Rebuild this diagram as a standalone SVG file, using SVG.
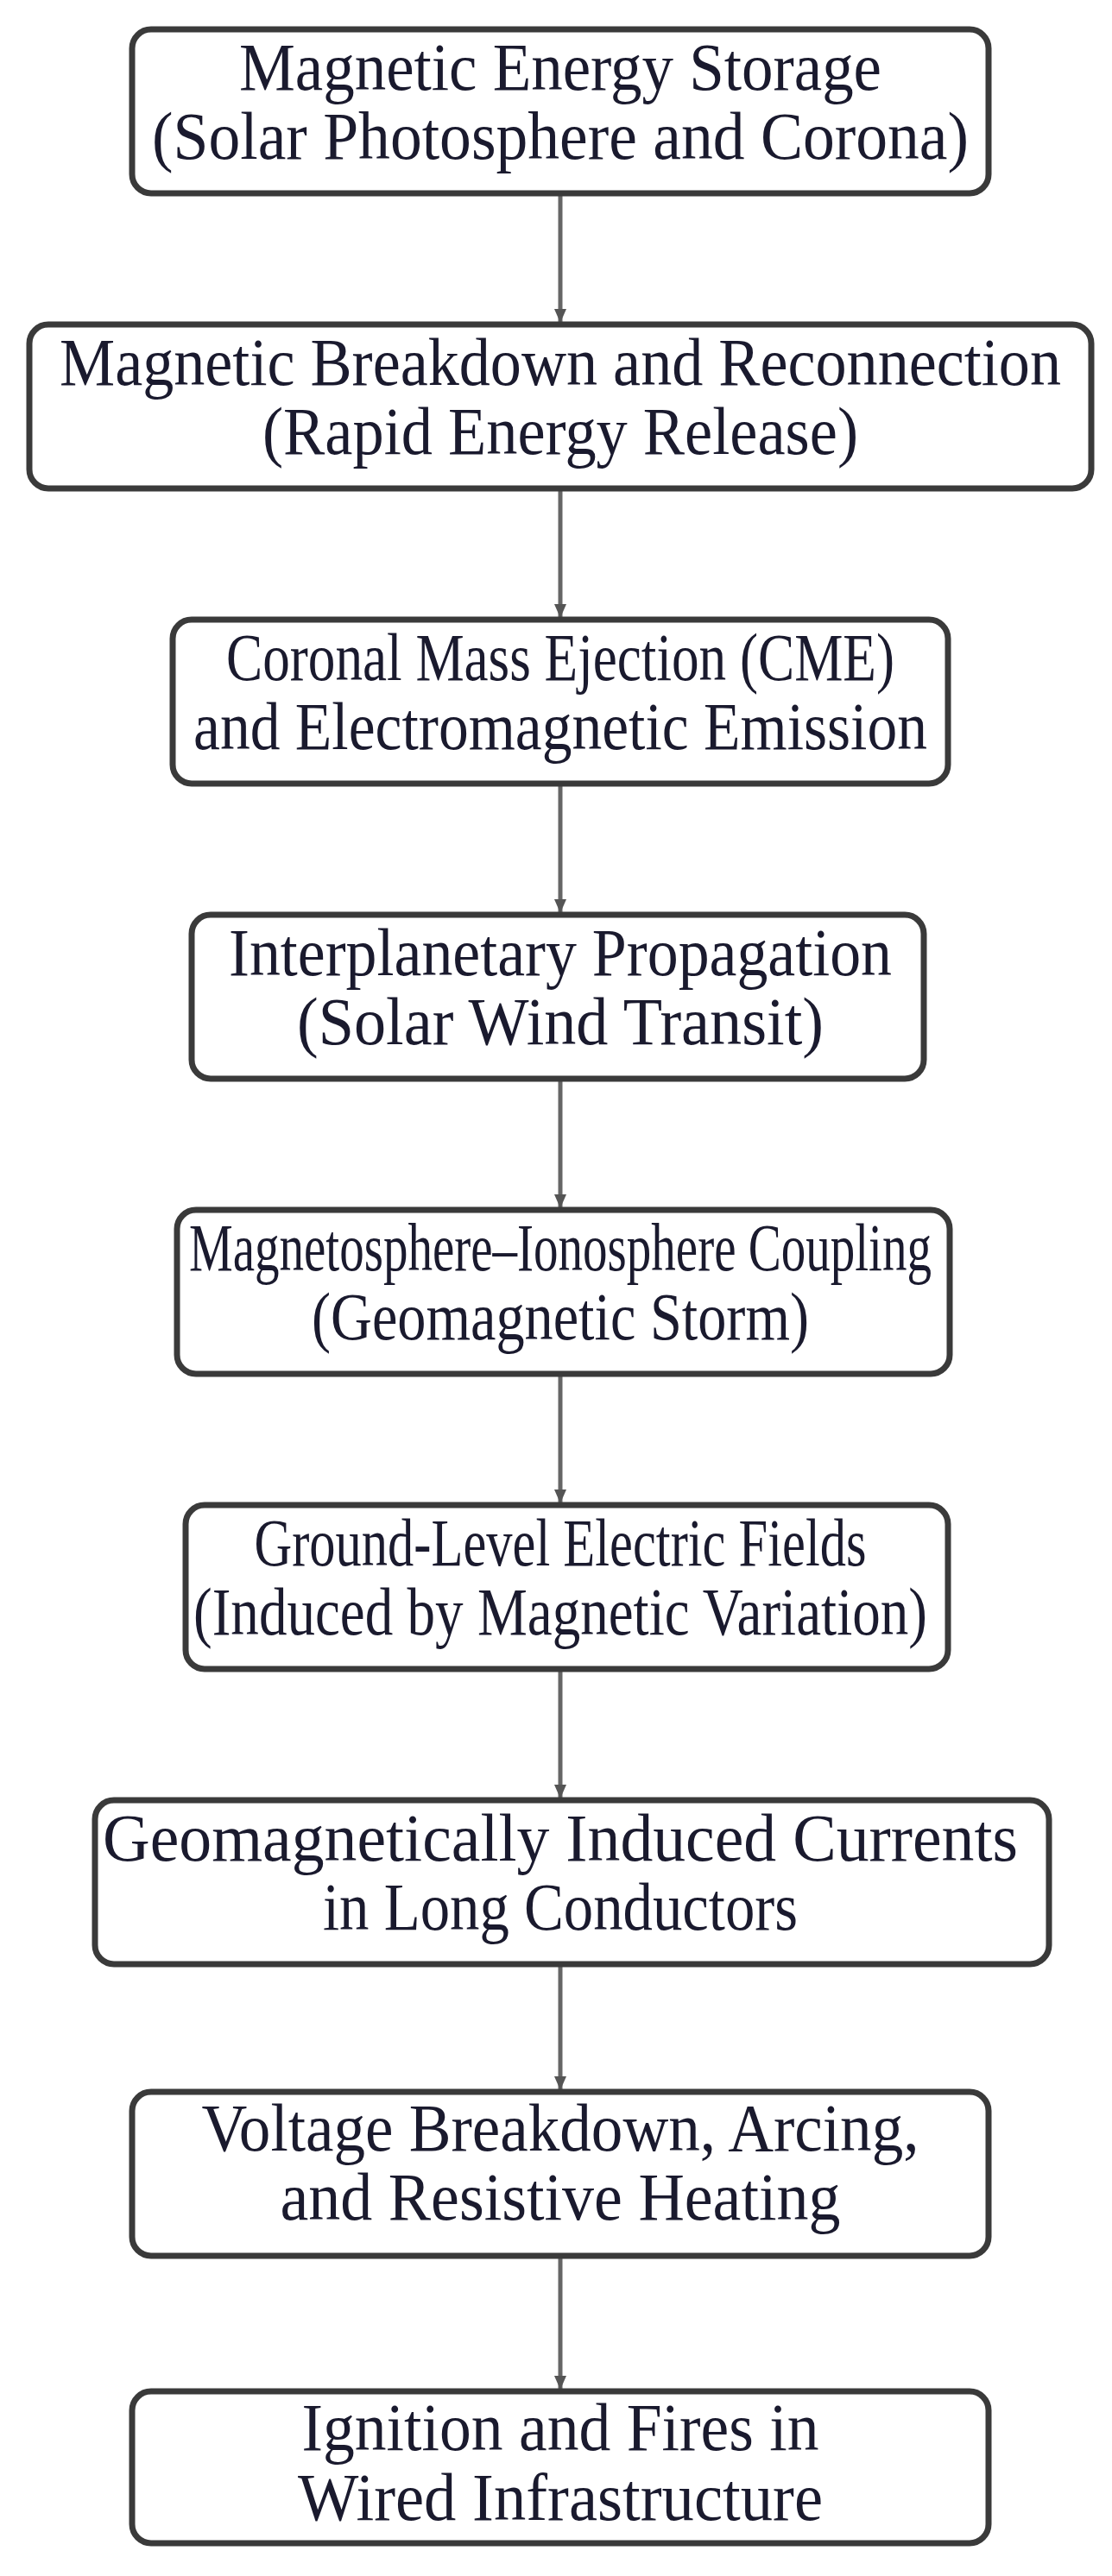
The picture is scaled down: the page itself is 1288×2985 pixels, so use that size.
<svg xmlns="http://www.w3.org/2000/svg" width="1288" height="2985" viewBox="0 0 1288 2985">
<style>
.box{fill:#fff;stroke:#3a3a3a;stroke-width:7}
.t{font-family:"Liberation Serif",serif;font-size:78px;fill:#1a1a2e;text-anchor:middle}
.c{stroke:#666;stroke-width:5;fill:none}
</style>
<defs><marker id="a" markerWidth="16" markerHeight="14" refX="15" refY="7" orient="auto" markerUnits="userSpaceOnUse" viewBox="0 0 16 14"><path d="M0,0L16,7L0,14z" fill="#555"/></marker></defs>
<rect width="1288" height="2985" fill="#fff"/>
<g id="connectors">
<line class="c" x1="649" y1="227" x2="649" y2="373" marker-end="url(#a)"/>
<line class="c" x1="649" y1="569" x2="649" y2="715" marker-end="url(#a)"/>
<line class="c" x1="649" y1="911" x2="649" y2="1057" marker-end="url(#a)"/>
<line class="c" x1="649" y1="1253" x2="649" y2="1399" marker-end="url(#a)"/>
<line class="c" x1="649" y1="1595" x2="649" y2="1741" marker-end="url(#a)"/>
<line class="c" x1="649" y1="1937" x2="649" y2="2083" marker-end="url(#a)"/>
<line class="c" x1="649" y1="2279" x2="649" y2="2421" marker-end="url(#a)"/>
<line class="c" x1="649" y1="2617" x2="649" y2="2768" marker-end="url(#a)"/>
</g>
<g id="n1"><rect class="box" x="153" y="34" width="992" height="190" rx="22"/><text class="t" x="649" y="104" textLength="744" lengthAdjust="spacingAndGlyphs">Magnetic Energy Storage</text><text class="t" x="649" y="184" textLength="946" lengthAdjust="spacingAndGlyphs">(Solar Photosphere and Corona)</text></g>
<g id="n2"><rect class="box" x="34" y="376" width="1230" height="190" rx="22"/><text class="t" x="649" y="446" textLength="1160" lengthAdjust="spacingAndGlyphs">Magnetic Breakdown and Reconnection</text><text class="t" x="649" y="526" textLength="690" lengthAdjust="spacingAndGlyphs">(Rapid Energy Release)</text></g>
<g id="n3"><rect class="box" x="200" y="718" width="898" height="190" rx="22"/><text class="t" x="649" y="788" textLength="774" lengthAdjust="spacingAndGlyphs">Coronal Mass Ejection (CME)</text><text class="t" x="649" y="868" textLength="850" lengthAdjust="spacingAndGlyphs">and Electromagnetic Emission</text></g>
<g id="n4"><rect class="box" x="222" y="1060" width="848" height="190" rx="22"/><text class="t" x="649" y="1130" textLength="768" lengthAdjust="spacingAndGlyphs">Interplanetary Propagation</text><text class="t" x="649" y="1210" textLength="610" lengthAdjust="spacingAndGlyphs">(Solar Wind Transit)</text></g>
<g id="n5"><rect class="box" x="205" y="1402" width="895" height="190" rx="22"/><text class="t" x="649" y="1472" textLength="860" lengthAdjust="spacingAndGlyphs">Magnetosphere–Ionosphere Coupling</text><text class="t" x="649" y="1552" textLength="576" lengthAdjust="spacingAndGlyphs">(Geomagnetic Storm)</text></g>
<g id="n6"><rect class="box" x="215" y="1744" width="883" height="190" rx="22"/><text class="t" x="649" y="1814" textLength="709" lengthAdjust="spacingAndGlyphs">Ground-Level Electric Fields</text><text class="t" x="649" y="1894" textLength="850" lengthAdjust="spacingAndGlyphs">(Induced by Magnetic Variation)</text></g>
<g id="n7"><rect class="box" x="110" y="2086" width="1105" height="190" rx="22"/><text class="t" x="649" y="2156" textLength="1060" lengthAdjust="spacingAndGlyphs">Geomagnetically Induced Currents</text><text class="t" x="649" y="2236" textLength="550" lengthAdjust="spacingAndGlyphs">in Long Conductors</text></g>
<g id="n8"><rect class="box" x="153" y="2424" width="992" height="190" rx="22"/><text class="t" x="649" y="2492" textLength="831" lengthAdjust="spacingAndGlyphs">Voltage Breakdown, Arcing,</text><text class="t" x="649" y="2572" textLength="649" lengthAdjust="spacingAndGlyphs">and Resistive Heating</text></g>
<g id="n9"><rect class="box" x="153" y="2771" width="992" height="176" rx="22"/><text class="t" x="649" y="2839" textLength="599" lengthAdjust="spacingAndGlyphs">Ignition and Fires in</text><text class="t" x="649" y="2920" textLength="608" lengthAdjust="spacingAndGlyphs">Wired Infrastructure</text></g>
</svg>
